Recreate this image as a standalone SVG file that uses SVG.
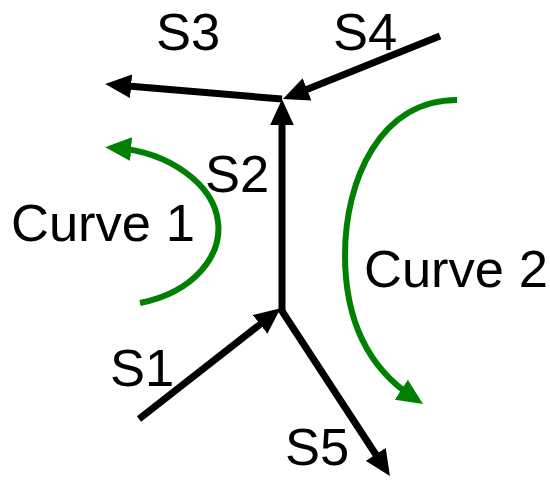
<svg xmlns="http://www.w3.org/2000/svg" width="550" height="482" viewBox="0 0 550 482">
<style>
.lbl{font-family:"Liberation Sans",Arial,sans-serif;font-size:52.5px;fill:#000}
.blk{fill:none;stroke:#000;stroke-width:7}
.grn{fill:none;stroke:#008000;stroke-width:6}
</style>
<defs>
<marker id="ab" markerUnits="userSpaceOnUse" markerWidth="26" markerHeight="24" refX="14" refY="11" orient="auto" viewBox="0 0 24 22">
<path d="M0,0 L24,11 L0,22 z" fill="#000"/>
</marker>
<marker id="ag" markerUnits="userSpaceOnUse" markerWidth="26" markerHeight="24" refX="14" refY="11" orient="auto" viewBox="0 0 24 22">
<path d="M0,0 L24,11 L0,22 z" fill="#008000"/>
</marker>
</defs>
<rect width="550" height="482" fill="#fff"/>
<g id="connectors">
<path id="S1" class="blk" d="M139,419 L272,315" marker-end="url(#ab)"/>
<path id="S2" class="blk" d="M282,312 L282,110" marker-end="url(#ab)"/>
<path id="S3" class="blk" d="M282,99 L116,85" marker-end="url(#ab)"/>
<path id="S4" class="blk" d="M440,36 L293,95" marker-end="url(#ab)"/>
<path id="S5" class="blk" d="M280,308 L384,467" marker-end="url(#ab)"/>
<path id="curve1" class="grn" d="M140,303 C195,292 222,255 218,222 C214,185 170,152 116,148" marker-end="url(#ag)"/>
<path id="curve2" class="grn" d="M457,100 C380,100 345,180 345,255 C345,320 368,368 414,398" marker-end="url(#ag)"/>
</g>
<g id="labels">
<text class="lbl" x="156" y="50">S3</text>
<text class="lbl" x="333" y="50">S4</text>
<text class="lbl" x="205" y="192">S2</text>
<text class="lbl" x="11" y="241">Curve 1</text>
<text class="lbl" x="364" y="287">Curve 2</text>
<text class="lbl" x="110" y="386">S1</text>
<text class="lbl" x="285" y="465">S5</text>
</g>
</svg>
